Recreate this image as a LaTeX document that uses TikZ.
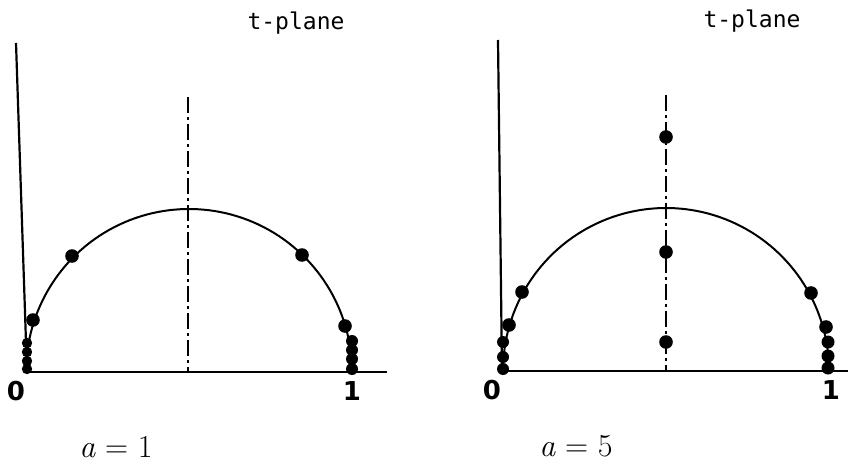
\documentclass[tikz,border=0pt]{standalone}
\usepackage{fontspec}
\newfontfamily\monofont{DejaVu Sans Mono}
\newfontfamily\labfont{DejaVu Sans}
\begin{document}
\begin{tikzpicture}[x=1pt,y=-1pt, line width=2pt,
  axis/.style={line width=2.2pt},
  curve/.style={line width=2pt},
  dashdot/.style={line width=2.4pt, dash pattern=on 16pt off 4pt on 3pt off 4pt},
  bigdot/.style={fill=black},
  title/.style={font=\monofont\fontsize{23}{23}\selectfont, inner sep=0pt},
  num/.style={font=\labfont\bfseries\fontsize{26}{26}\selectfont, inner sep=0pt},
  param/.style={font=\fontsize{32}{32}\selectfont, inner sep=0pt}]
\useasboundingbox (0,0) rectangle (848,465);
% ---------- left panel (a = 1) ----------
\draw[axis] (16,43) -- (27,372);
\draw[axis] (27,372) -- (387,372);
\draw[curve] plot[domain=0:180, samples=90] ({189+163*cos(\x)}, {372-163*sin(\x)});
\draw[dashdot] (188,97) -- (188,372);
\foreach \p in {(72,256),(302,255),(345,326),(33,320)}
  \fill[bigdot] \p circle[radius=6.8pt];
\foreach \p in {(27,343),(27,352),(27,361),(27,369)}
  \fill[bigdot] \p circle[radius=5.2pt];
\foreach \p in {(352,341),(352,350),(352,359),(352,369)}
  \fill[bigdot] \p circle[radius=6pt];
\node[title] (tp1) at (296,23) {t-plane};
\node[num] (z1) at (16,391) {0};
\node[num] (o1) at (352,391) {1};
\node[param] (a1) at (116,447) {{\itshape a} = 1};
% ---------- right panel (a = 5) ----------
\draw[axis] (498,40) -- (502,371);
\draw[axis] (502,371) -- (848,371);
\draw[curve] plot[domain=0:180, samples=90] ({666+163*cos(\x)}, {371-163*sin(\x)});
\draw[dashdot] (666,95) -- (666,371);
\foreach \p in {(666,137),(666,252),(666,342),(522,292),(811,293),(509,325),(826,327)}
  \fill[bigdot] \p circle[radius=6.8pt];
\foreach \p in {(503,342),(503,357),(503,369)}
  \fill[bigdot] \p circle[radius=6pt];
\foreach \p in {(828,342),(828,356),(828,368)}
  \fill[bigdot] \p circle[radius=6.5pt];
\node[title] (tp2) at (752,21) {t-plane};
\node[num] (z2) at (492,390) {0};
\node[num] (o2) at (831,390) {1};
\node[param] (a2) at (576,446) {{\itshape a} = 5};
\end{tikzpicture}
\end{document}
